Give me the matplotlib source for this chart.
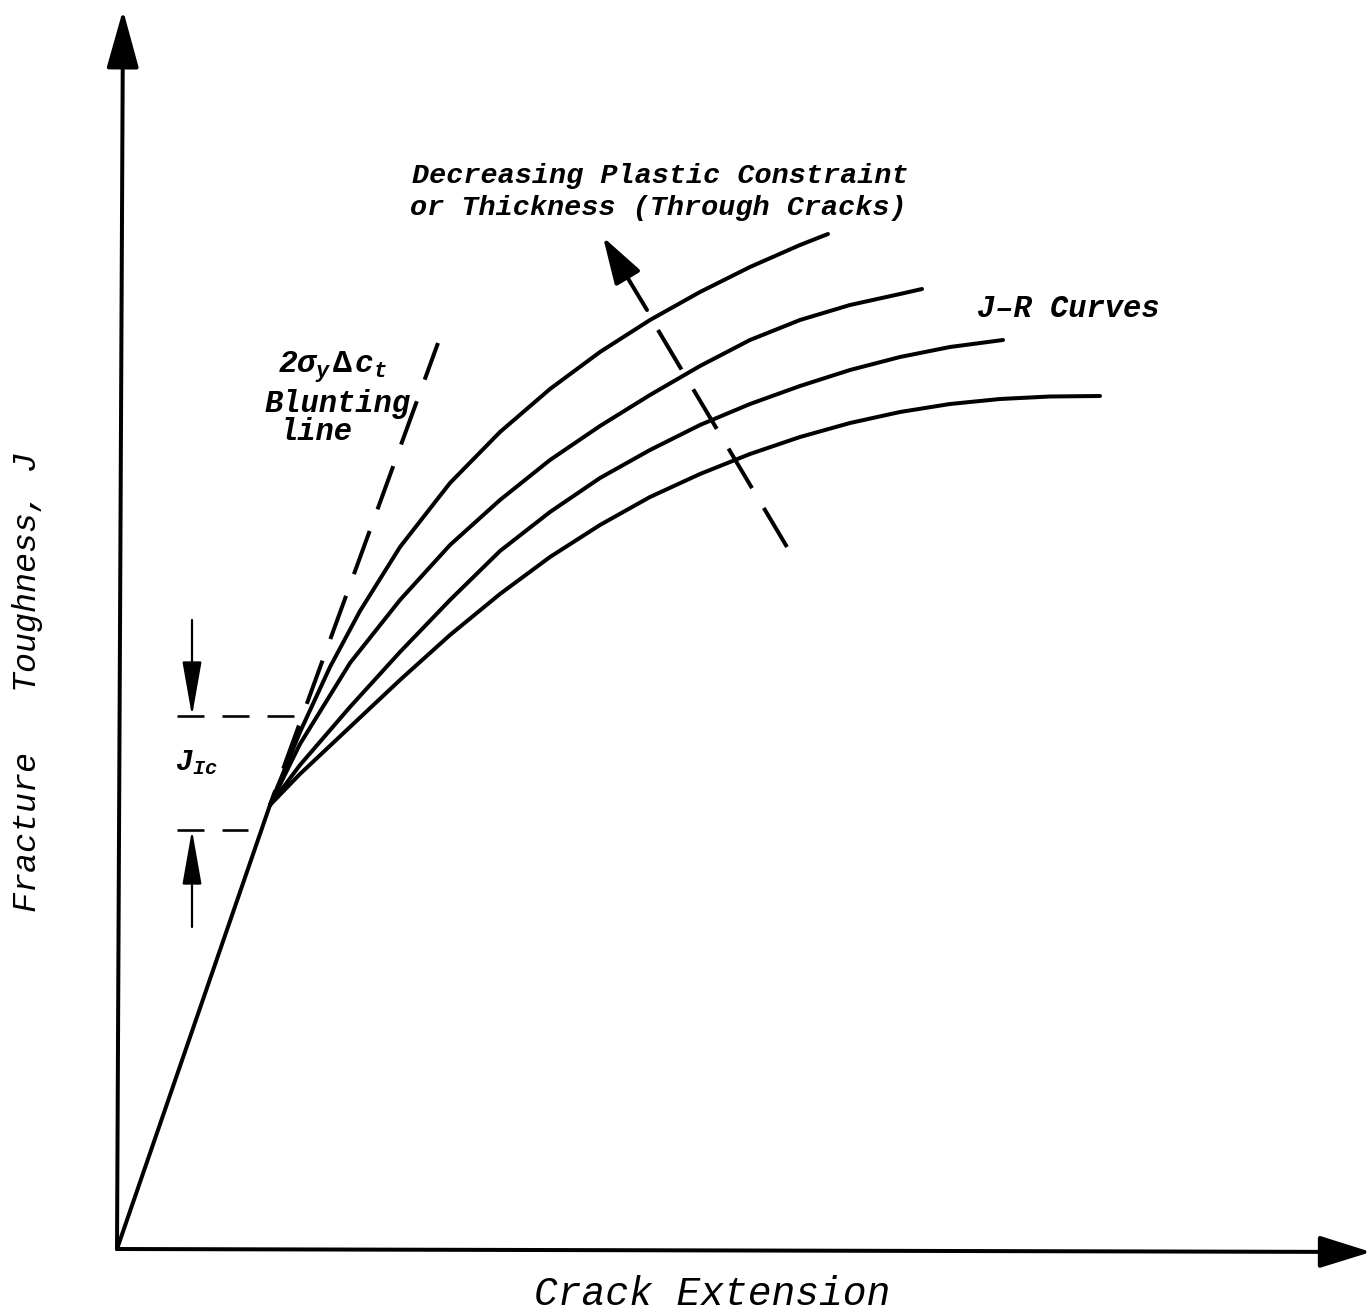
import matplotlib
matplotlib.use("Agg")
import matplotlib.pyplot as plt

plt.rcParams['lines.scale_dashes'] = False
plt.rcParams['mathtext.fontset'] = 'custom'
plt.rcParams['mathtext.it'] = 'Liberation Mono:italic:bold'
plt.rcParams['mathtext.rm'] = 'Liberation Mono:bold'
plt.rcParams['mathtext.bf'] = 'Liberation Mono:bold'

# ---------------- data (crack extension, J) ----------------
origin = (0.0, 0.0)
junction = (1.53, 4.44)          # J_Ic point where R-curves leave blunting line

curve1_x = [1.53, 1.83, 2.13, 2.43, 2.83, 3.33, 3.83, 4.33, 4.83, 5.33, 5.83, 6.33, 6.83, 7.11]
curve1_y = [4.44, 5.17, 5.82, 6.38, 7.02, 7.66, 8.17, 8.60, 8.97, 9.29, 9.57, 9.82, 10.04, 10.15]

curve2_x = [1.53, 1.83, 2.33, 2.83, 3.33, 3.83, 4.33, 4.83, 5.33, 5.83, 6.33, 6.83, 7.33, 7.83, 8.05]
curve2_y = [4.44, 5.05, 5.86, 6.49, 7.04, 7.49, 7.89, 8.23, 8.54, 8.83, 9.09, 9.29, 9.44, 9.55, 9.60]

curve3_x = [1.53, 1.83, 2.33, 2.83, 3.33, 3.83, 4.33, 4.83, 5.33, 5.83, 6.33, 6.83, 7.33, 7.83, 8.33, 8.86]
curve3_y = [4.44, 4.84, 5.42, 5.97, 6.49, 6.98, 7.37, 7.71, 7.99, 8.24, 8.45, 8.63, 8.79, 8.92, 9.02, 9.09]

curve4_x = [1.53, 1.83, 2.33, 2.83, 3.33, 3.83, 4.33, 4.83, 5.33, 5.83, 6.33, 6.83, 7.33, 7.83, 8.33, 8.83, 9.33, 9.83]
curve4_y = [4.44, 4.75, 5.22, 5.69, 6.14, 6.55, 6.92, 7.24, 7.52, 7.75, 7.95, 8.12, 8.26, 8.37, 8.45, 8.50, 8.525, 8.53]

blunting_x = [3.21, 1.53]
blunting_y = [9.06, 4.44]

trend_dash_x = [5.41, 6.70]       # dashed part of "decreasing constraint" arrow
trend_dash_y = [9.19, 7.02]
trend_arrow_tail = (5.30, 9.39)
trend_arrow_tip = (4.86, 10.12)

jic_upper = 5.33
jic_lower = 4.19
jic_upper_x = [0.60, 1.79]
jic_lower_x = [0.60, 1.31]
jic_arrow_x = 0.75
jic_down_from = 6.29
jic_up_from = 3.22

xaxis_tip = (12.54, -0.03)
yaxis_tip = (0.06, 12.39)

# ---------------- figure ----------------
fig = plt.figure(figsize=(13.72, 13.15), dpi=100)
ax = fig.add_axes([0, 0, 1, 1])
ax.set_xlim(-1.17, 12.55)
ax.set_ylim(-0.66, 12.49)
ax.axis('off')

PX = 0.72                       # points per pixel at 100 dpi
LW = 4.0 * PX
INK = 'black'

# axes with arrow heads
ax.annotate('', xy=yaxis_tip, xytext=origin,
            arrowprops=dict(arrowstyle='-|>,head_length=36,head_width=10',
                            mutation_scale=1, lw=LW, color=INK, fc=INK,
                            shrinkA=0, shrinkB=0))
ax.annotate('', xy=xaxis_tip, xytext=origin,
            arrowprops=dict(arrowstyle='-|>,head_length=32,head_width=10',
                            mutation_scale=1, lw=LW, color=INK, fc=INK,
                            shrinkA=0, shrinkB=0))

# initial linear part
ax.plot([origin[0], junction[0]], [origin[1], junction[1]], color=INK, lw=LW,
        solid_capstyle='round')

# J-R curves
for cx, cy in [(curve1_x, curve1_y), (curve2_x, curve2_y),
               (curve3_x, curve3_y), (curve4_x, curve4_y)]:
    ax.plot(cx, cy, color=INK, lw=LW, solid_capstyle='round', solid_joinstyle='round')

# blunting line (dashed)
ax.plot(blunting_x, blunting_y, color=INK, lw=LW,
        linestyle=(7 * PX, (46 * PX, 23 * PX)), dash_capstyle='butt')

# decreasing constraint arrow
ax.plot(trend_dash_x, trend_dash_y, color=INK, lw=LW,
        linestyle=(0, (46 * PX, 23 * PX)), dash_capstyle='butt')
ax.annotate('', xy=trend_arrow_tip, xytext=trend_arrow_tail,
            arrowprops=dict(arrowstyle='-|>,head_length=29,head_width=9',
                            mutation_scale=1, lw=LW, color=INK, fc=INK,
                            shrinkA=0, shrinkB=0))

# J_Ic markers
LW2 = 2.6 * PX
ax.plot(jic_upper_x, [jic_upper, jic_upper], color=INK, lw=LW2,
        linestyle=(0, (27 * PX, 18 * PX)), dash_capstyle='butt')
ax.plot(jic_lower_x, [jic_lower, jic_lower], color=INK, lw=LW2,
        linestyle=(0, (27 * PX, 18 * PX)), dash_capstyle='butt')
ax.annotate('', xy=(jic_arrow_x, jic_upper), xytext=(jic_arrow_x, jic_down_from),
            arrowprops=dict(arrowstyle='-|>,head_length=34,head_width=6',
                            mutation_scale=1, lw=2.2 * PX, color=INK, fc=INK,
                            shrinkA=0, shrinkB=0))
ax.annotate('', xy=(jic_arrow_x, jic_lower), xytext=(jic_arrow_x, jic_up_from),
            arrowprops=dict(arrowstyle='-|>,head_length=34,head_width=6',
                            mutation_scale=1, lw=2.2 * PX, color=INK, fc=INK,
                            shrinkA=0, shrinkB=0))

# ---------------- text ----------------
FONT = 'Liberation Mono'
ann = dict(family=FONT, style='italic', weight='bold', color=INK)

ax.text(2.95, 10.66, 'Decreasing Plastic Constraint', fontsize=20.5, ha='left', va='baseline', **ann)
ax.text(2.93, 10.34, 'or Thickness (Through Cracks)', fontsize=20.5, ha='left', va='baseline', **ann)
ax.text(8.60, 9.32, 'J\u2013R Curves', fontsize=22, ha='left', va='baseline', **ann)
ax.text(1.61, 8.76, r'2$\sigma_y\,\mathrm{\Delta}\,c_t$', fontsize=22.5, ha='left', va='baseline', **ann)
ax.text(1.48, 8.37, 'Blunting', fontsize=22, ha='left', va='baseline', **ann)
ax.text(1.62, 8.09, 'line', fontsize=22, ha='left', va='baseline', **ann)
ax.text(0.58, 4.79, r'$J_{Ic}$', fontsize=21, ha='left', va='baseline', **ann)

lab = dict(family=FONT, style='italic', weight='normal', color=INK)
ax.text(5.95, -0.56, 'Crack Extension', fontsize=28.5, ha='center', va='baseline', **lab)
ax.text(-0.89, 5.67, 'Fracture   Toughness, J', fontsize=24, rotation=90,
        ha='center', va='center', **lab)

fig.savefig('out.png', dpi=100)
